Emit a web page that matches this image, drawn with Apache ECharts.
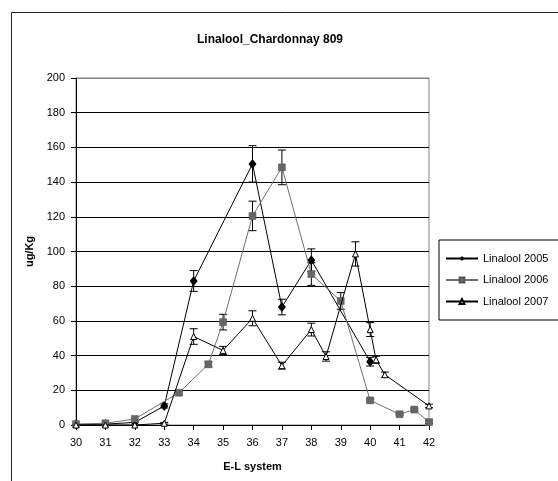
<!DOCTYPE html>
<html>
<head>
<meta charset="utf-8">
<script src="https://cdn.jsdelivr.net/npm/echarts@6/dist/echarts.min.js"></script>
<style>
  html, body { margin: 0; padding: 0; background: #fff; }
  #chart { width: 558px; height: 481px; }
</style>
</head>
<body>
<div id="chart"></div>
<script>
// E-L growth stage of each sample and the measured linalool (ug/Kg) with its error
const stages2005 = [30, 31, 32, 33, 34, 36, 37, 38, 40];
const linalool2005 = [0.3, 0.5, 1.5, 11, 83, 150.5, 68, 95, 36.5];
const error2005 = [0, 0, 0, 1.2, 6, 10.5, 4.5, 6.5, 2.5];

const stages2006 = [30, 31, 32, 33.5, 34.5, 35, 36, 37, 38, 39, 40, 41, 41.5, 42];
const linalool2006 = [0.5, 1, 3.5, 18.6, 35, 59.3, 120.5, 148.5, 87, 71.5, 14.2, 6.2, 8.9, 1.7];
const error2006 = [0, 0, 0, 1, 1.5, 4.5, 8.5, 10, 6.5, 4.8, 0.8, 0.5, 0.8, 0.8];

const stages2007 = [30, 31, 32, 33, 34, 35, 36, 37, 38, 38.5, 39.5, 40, 40.2, 40.5, 42];
const linalool2007 = [0, 0, 0, 1, 51, 43, 61.5, 34.2, 55, 39.5, 98.6, 55, 37.6, 29, 11];
const error2007 = [0, 0, 0, 0.5, 4.5, 2.3, 4.3, 2, 3.7, 2.7, 7, 4, 2, 1.5, 1];

const seriesNames = ['Linalool 2005', 'Linalool 2006', 'Linalool 2007'];
const chartTitle = 'Linalool_Chardonnay 809';
const xAxisTitle = 'E-L system';
const yAxisTitle = 'ug/Kg';

const FONT = '"Liberation Sans", Arial, sans-serif';

function points(xs, ys) { return xs.map((x, i) => [x, ys[i]]); }
function errPoints(xs, ys, es) { return xs.map((x, i) => [x, ys[i], es[i]]); }

// vertical error bar with short caps
function errorBarSeries(data, z) {
  return {
    type: 'custom',
    z: z,
    silent: true,
    data: data,
    encode: { x: 0, y: 1 },
    renderItem: function (params, api) {
      const x = api.value(0), y = api.value(1), e = api.value(2);
      if (!e) return null;
      const hi = api.coord([x, y + e]);
      const lo = api.coord([x, y - e]);
      const cap = 4;
      const st = { stroke: '#000', lineWidth: 1 };
      return {
        type: 'group',
        children: [
          { type: 'line', shape: { x1: hi[0], y1: hi[1], x2: lo[0], y2: lo[1] }, style: st },
          { type: 'line', shape: { x1: hi[0] - cap, y1: hi[1], x2: hi[0] + cap, y2: hi[1] }, style: st },
          { type: 'line', shape: { x1: lo[0] - cap, y1: lo[1], x2: lo[0] + cap, y2: lo[1] }, style: st }
        ]
      };
    }
  };
}

const chart = echarts.init(document.getElementById('chart'), null, { renderer: 'canvas' });

const splitColors = [];
for (let i = 0; i < 10; i++) splitColors.push('#000');
splitColors.push('#808080');

chart.setOption({
  animation: false,
  backgroundColor: '#fff',
  textStyle: { fontFamily: FONT },
  title: {
    text: chartTitle,
    left: 265,
    top: 29,
    textAlign: 'center',
    textStyle: { fontFamily: FONT, fontSize: 12, fontWeight: 'bold', color: '#000' }
  },
  graphic: [
    {
      type: 'rect',
      shape: { x: 11.5, y: 12.5, width: 700, height: 700 },
      style: { fill: 'none', stroke: '#222', lineWidth: 1 },
      z: -1
    }
  ],
  legend: {
    data: seriesNames,
    orient: 'vertical',
    left: 439,
    top: 240,
    itemWidth: 32,
    itemHeight: 6,
    itemGap: 10.5,
    padding: [13, 30, 13, 6],
    borderColor: '#000',
    borderWidth: 1,
    textStyle: { fontFamily: FONT, fontSize: 11, color: '#000' }
  },
  grid: {
    left: 76,
    top: 78,
    width: 353,
    height: 347,
    show: true,
    borderColor: '#808080',
    borderWidth: 1,
    backgroundColor: '#fff'
  },
  xAxis: {
    type: 'value',
    min: 30,
    max: 42,
    interval: 1,
    name: xAxisTitle,
    nameLocation: 'middle',
    nameGap: 36,
    nameTextStyle: { fontFamily: FONT, fontSize: 11, fontWeight: 'bold', color: '#000' },
    axisLine: { lineStyle: { color: '#000', width: 1 } },
    axisTick: { show: true, inside: false, length: 5, lineStyle: { color: '#000' } },
    axisLabel: { fontFamily: FONT, fontSize: 11, color: '#000', margin: 12 },
    splitLine: { show: false }
  },
  yAxis: {
    type: 'value',
    min: 0,
    max: 200,
    interval: 20,
    name: yAxisTitle,
    nameLocation: 'middle',
    nameGap: 35,
    nameRotate: 90,
    nameTextStyle: { fontFamily: FONT, fontSize: 11, fontWeight: 'bold', color: '#000' },
    axisLine: { show: true, lineStyle: { color: '#000', width: 1 } },
    axisTick: { show: true, inside: false, length: 5, lineStyle: { color: '#000' } },
    axisLabel: { fontFamily: FONT, fontSize: 11, color: '#000', margin: 11 },
    splitLine: { show: true, lineStyle: { color: splitColors, width: 1 } }
  },
  series: [
    errorBarSeries(errPoints(stages2005, linalool2005, error2005), 2),
    {
      name: seriesNames[0],
      type: 'line',
      z: 3,
      data: points(stages2005, linalool2005),
      symbol: 'diamond',
      symbolSize: [8, 10],
      lineStyle: { color: '#000', width: 1 },
      itemStyle: { color: '#000', borderColor: '#000', borderWidth: 0 }
    },
    errorBarSeries(errPoints(stages2006, linalool2006, error2006), 4),
    {
      name: seriesNames[1],
      type: 'line',
      z: 5,
      data: points(stages2006, linalool2006),
      symbol: 'rect',
      symbolSize: 7,
      lineStyle: { color: '#707070', width: 1 },
      itemStyle: { color: '#666', borderColor: '#555', borderWidth: 0.5 }
    },
    errorBarSeries(errPoints(stages2007, linalool2007, error2007), 6),
    {
      name: seriesNames[2],
      type: 'line',
      z: 7,
      data: points(stages2007, linalool2007),
      symbol: 'triangle',
      symbolSize: 6,
      showAllSymbol: true,
      lineStyle: { color: '#000', width: 1 },
      itemStyle: { color: '#fff', borderColor: '#000', borderWidth: 1 }
    }
  ]
});
</script>
</body>
</html>
